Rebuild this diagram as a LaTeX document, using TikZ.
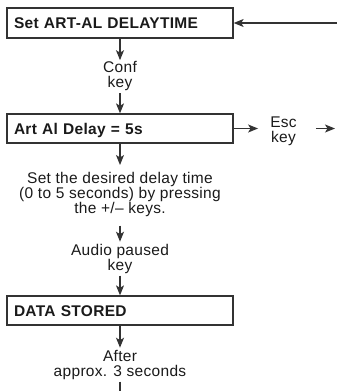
\documentclass[tikz,border=0pt]{standalone}
\usepackage{fontspec}
\setmainfont{Liberation Sans}[LetterSpace=2]
\usetikzlibrary{arrows.meta}
\definecolor{ink}{HTML}{1A1A1A}
\definecolor{rule}{HTML}{333333}

\begin{document}
\begin{tikzpicture}[x=1pt,y=1pt,
  every node/.style={text=ink},
  stepbox/.style={draw=rule, line width=1.3pt, rectangle,
    inner xsep=7pt, inner ysep=0pt, text width=212pt, align=left,
    minimum height=30pt, text height=11pt, text depth=0pt,
    font=\bfseries\fontsize{15.5}{16}\selectfont},
  note/.style={inner sep=2pt, align=center, anchor=north},
  lead/.style={font={\fontsize{15.5}{#1}\selectfont}},
  conn/.style={draw=rule, line width=1.1pt},
  flow/.style={conn, -{Stealth[length=10pt,width=8pt,inset=2.5pt]}},
]
\useasboundingbox (0,0) rectangle (337,-391);

% process steps
\node[stepbox] (b1) at (120,-23) {Set ART-AL DELAYTIME};
\node[stepbox, minimum height=29pt] (b2) at (120,-128.5) {Art Al Delay = 5s};
\node[stepbox, minimum height=29pt] (b3) at (120,-310.5) {DATA STORED};

% labels between the steps
\node[note, lead=15] (conf) at (120,-59.2) {Conf\\key};
\node[note, lead=15, inner xsep=12pt] (esc) at (283.5,-114.4) {Esc\\key};
\node[note, lead=15] (desc) at (120,-169.7)
  {Set the desired delay time\\(0 to 5 seconds) by pressing\\the +/– keys.};
\node[note, lead=15] (audio) at (120,-241.7) {Audio paused\\key};
\node[note, lead=15] (after) at (120,-347.7) {After\\approx. 3 seconds};

% loose ends
\coordinate (loopin) at (337,-23);
\coordinate (escout) at (335,-128.5);
\coordinate (bottomend) at (120,-391);

% connectors
\draw[flow] (loopin) -- (b1.east);
\draw[flow, shorten >=-1pt] (b1.south) -- (conf.north);
\draw[flow] (conf.south) -- (b2.north);
\draw[flow] (b2.east) -- (b2.east -| esc.west);
\draw[flow, shorten <=7pt] (esc.east |- b2.east) -- (escout);
\draw[flow, shorten >=4.7pt] (b2.south) -- (desc.north);
\draw[flow, shorten <=7pt] (desc.south) -- (audio.north);
\draw[flow] (audio.south) -- (b3.north);
\draw[flow] (b3.south) -- (after.north);
\draw[conn] (after.south) -- (bottomend);
\end{tikzpicture}
\end{document}
